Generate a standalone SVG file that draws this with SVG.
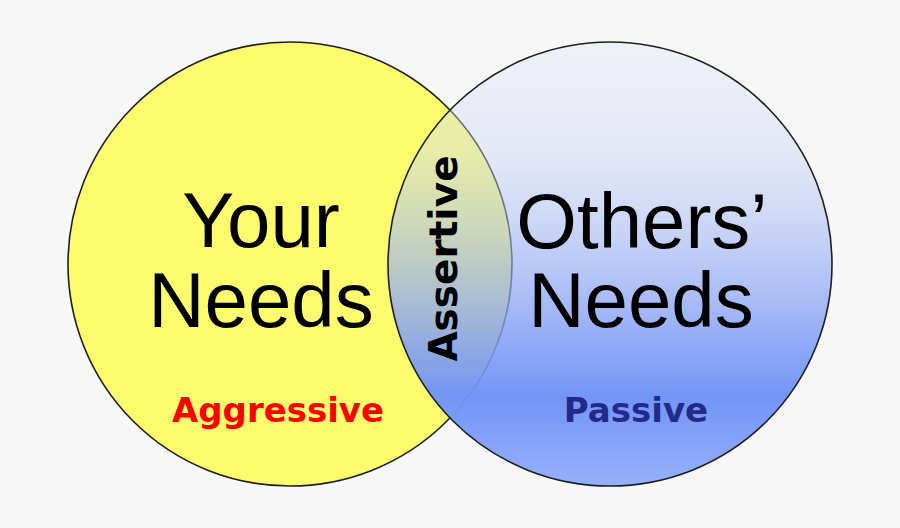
<svg xmlns="http://www.w3.org/2000/svg" width="900" height="528" viewBox="0 0 900 528">
  <style>
    .ring { stroke: #1e1e1e; stroke-width: 1.6; }
    .big { font-family: "Liberation Sans", Arial, sans-serif; font-size: 78px; fill: #000; text-anchor: middle; }
    .bold { font-family: "DejaVu Sans", Verdana, sans-serif; font-weight: bold; text-anchor: middle; }
  </style>
  <defs>
    <linearGradient id="blueFill" x1="0" y1="0" x2="0" y2="1">
      <stop offset="0" stop-color="#dfe5f8" stop-opacity="0.35"/>
      <stop offset="0.25" stop-color="#c9d4f7" stop-opacity="0.42"/>
      <stop offset="0.5" stop-color="#97aef5" stop-opacity="0.64"/>
      <stop offset="0.68" stop-color="#7f9cf6" stop-opacity="0.85"/>
      <stop offset="0.8" stop-color="#6f92f8" stop-opacity="0.97"/>
      <stop offset="1" stop-color="#98b0fa" stop-opacity="1"/>
    </linearGradient>
  </defs>
  <rect x="0" y="0" width="900" height="528" fill="#f7f7f7"/>

  <g id="your-needs">
    <circle class="ring" cx="290" cy="264" r="222" fill="#fcfc6e"/>
    <text class="big" x="261" y="247">Your</text>
    <text class="big" x="261" y="327">Needs</text>
    <text class="bold" x="278" y="422" font-size="34" fill="#ff0000">Aggressive</text>
  </g>

  <g id="others-needs">
    <circle class="ring" cx="610" cy="264" r="222" fill="url(#blueFill)"/>
    <text class="big" x="642" y="248">Others’</text>
    <text class="big" x="641" y="327">Needs</text>
    <text class="bold" x="636" y="422" font-size="34" fill="#232a87">Passive</text>
  </g>

  <g id="assertive">
    <text class="bold" font-size="39" fill="#000" transform="translate(457,258.5) rotate(-90)">Assertive</text>
  </g>
</svg>
